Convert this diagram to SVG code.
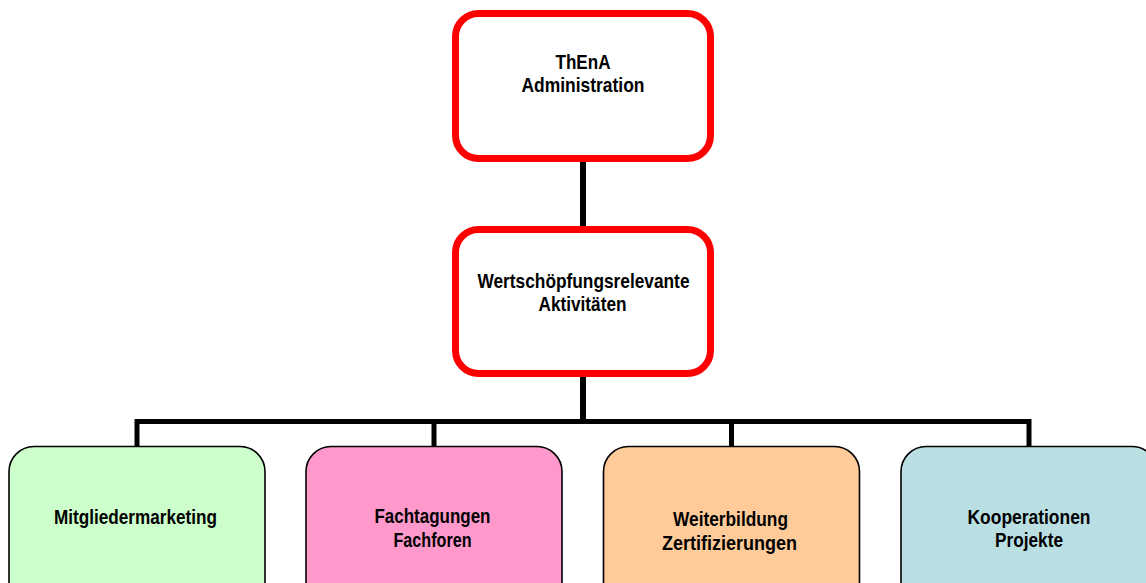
<svg xmlns="http://www.w3.org/2000/svg" width="1146" height="583" viewBox="0 0 1146 583">
<style>
.red{fill:#ffffff;stroke:#ff0000;stroke-width:7}
.leaf{stroke:#000000;stroke-width:1.6}
.t{font-family:"Liberation Sans",Arial,sans-serif;font-weight:bold;font-size:21px;fill:#000000;text-anchor:middle}
.c{fill:none;stroke:#000000;stroke-linejoin:miter;stroke-linecap:butt}
</style>
<rect width="1146" height="583" fill="#ffffff"/>
<g id="connectors">
<path class="c" stroke-width="6" d="M583 160 V228 M583 376 V422"/>
<path class="c" stroke-width="5" d="M137 447 V421.5 H1029 V447 M434 421.5 V447 M731.5 421.5 V447"/>
</g>
<g id="admin">
<rect class="red" x="455.5" y="13.5" width="255" height="145" rx="23"/>
<text class="t" x="583" y="69" textLength="55" lengthAdjust="spacingAndGlyphs">ThEnA</text>
<text class="t" x="583" y="92" textLength="123" lengthAdjust="spacingAndGlyphs">Administration</text>
</g>
<g id="aktivitaeten">
<rect class="red" x="455.5" y="229.5" width="255" height="144" rx="23"/>
<text class="t" x="583.5" y="288" textLength="212" lengthAdjust="spacingAndGlyphs">Wertschöpfungsrelevante</text>
<text class="t" x="582.5" y="310.5" textLength="88" lengthAdjust="spacingAndGlyphs">Aktivitäten</text>
</g>
<g id="mitglieder">
<rect class="leaf" fill="#ccffcc" x="9" y="446.5" width="256" height="170" rx="25"/>
<text class="t" x="135.5" y="523.5" textLength="163" lengthAdjust="spacingAndGlyphs">Mitgliedermarketing</text>
</g>
<g id="fachtagungen">
<rect class="leaf" fill="#ff99cc" x="306" y="446.5" width="256" height="170" rx="25"/>
<text class="t" x="432.5" y="523" textLength="116" lengthAdjust="spacingAndGlyphs">Fachtagungen</text>
<text class="t" x="432.5" y="547" textLength="78" lengthAdjust="spacingAndGlyphs">Fachforen</text>
</g>
<g id="weiterbildung">
<rect class="leaf" fill="#ffcc99" x="603.5" y="446.5" width="256" height="170" rx="25"/>
<text class="t" x="730.5" y="526" textLength="115" lengthAdjust="spacingAndGlyphs">Weiterbildung</text>
<text class="t" x="729.5" y="549.5" textLength="135" lengthAdjust="spacingAndGlyphs">Zertifizierungen</text>
</g>
<g id="kooperationen">
<rect class="leaf" fill="#b9dfe3" x="901" y="446.5" width="256" height="170" rx="25"/>
<text class="t" x="1029" y="524" textLength="123" lengthAdjust="spacingAndGlyphs">Kooperationen</text>
<text class="t" x="1029" y="547" textLength="68" lengthAdjust="spacingAndGlyphs">Projekte</text>
</g>
</svg>
